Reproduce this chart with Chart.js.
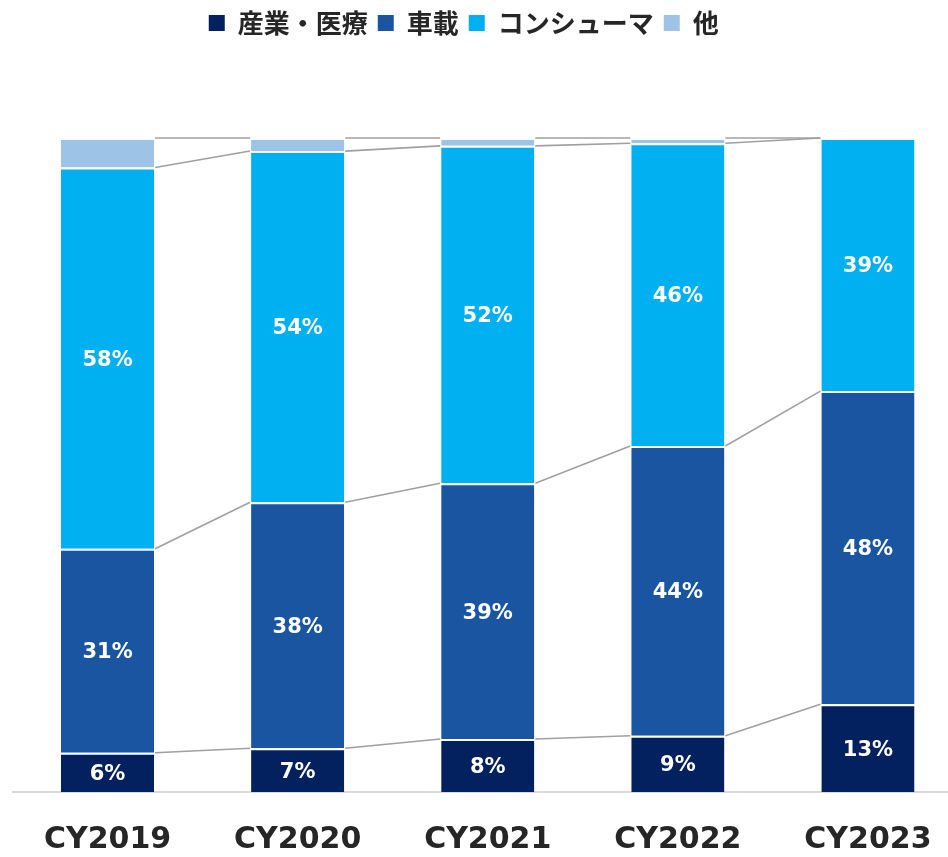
<!DOCTYPE html>
<html>
<head>
<meta charset="utf-8">
<script src="https://cdn.jsdelivr.net/npm/chart.js@4/dist/chart.umd.min.js"></script>
<style>
  html, body { margin: 0; padding: 0; background: #ffffff; overflow: hidden; }
  #wrap { position: absolute; left: 0; top: 0; width: 963px; height: 888px; }
</style>
</head>
<body>
<div id="wrap"><canvas id="c"></canvas></div>
<script>
const categories = ['CY2019', 'CY2020', 'CY2021', 'CY2022', 'CY2023'];
const seriesNames = ['産業・医療', '車載', 'コンシューマ', '他'];
const industrial = [6.0, 6.7, 8.1, 8.6, 13.4];
const automotive = [31.2, 37.6, 39.1, 44.3, 47.9];
const consumer = [58.3, 53.7, 51.6, 46.3, 38.7];
const other = [4.5, 2.0, 1.2, 0.8, 0.0];
const seriesColors = ['#03205f', '#1a55a2', '#00b0f0', '#9dc3e6'];

const seriesData = [industrial, automotive, consumer, other];

const datasets = seriesData.map((d, k) => ({
  label: seriesNames[k],
  data: d,
  backgroundColor: seriesColors[k],
  borderColor: '#ffffff',
  borderWidth: { top: 2, left: 0, right: 0, bottom: 0 },
  borderSkipped: false,
  categoryPercentage: 1.0,
  barPercentage: 0.49,
  showLabel: k < 3
}));

const connectorPlugin = {
  id: 'connectors',
  afterDatasetsDraw(chart) {
    const ctx = chart.ctx;
    ctx.save();
    ctx.strokeStyle = '#a0a0a0';
    ctx.lineWidth = 1.6;
    for (let k = 0; k < chart.data.datasets.length; k++) {
      const meta = chart.getDatasetMeta(k);
      for (let i = 0; i < meta.data.length - 1; i++) {
        const a = meta.data[i], b = meta.data[i + 1];
        ctx.beginPath();
        ctx.moveTo(a.x + a.width / 2 + 1, a.y);
        ctx.lineTo(b.x - b.width / 2 - 1, b.y);
        ctx.stroke();
      }
    }
    ctx.restore();
  }
};

const labelPlugin = {
  id: 'segLabels',
  afterDatasetsDraw(chart) {
    const ctx = chart.ctx;
    ctx.save();
    ctx.fillStyle = '#ffffff';
    ctx.font = 'bold 21px "DejaVu Sans", Verdana, sans-serif';
    ctx.textAlign = 'center';
    ctx.textBaseline = 'middle';
    chart.data.datasets.forEach((ds, k) => {
      if (!ds.showLabel) return;
      const meta = chart.getDatasetMeta(k);
      meta.data.forEach((bar, i) => {
        const v = ds.data[i];
        if (!v) return;
        ctx.fillText(Math.round(v) + '%', bar.x, (bar.y + bar.base) / 2 + 2);
      });
    });
    ctx.restore();
  }
};

const legendPlace = {
  id: 'legendPlace',
  beforeInit(chart) {
    const fit = chart.legend.fit;
    chart.legend.fit = function () {
      fit.bind(chart.legend)();
      this.height = 138;
    };
  },
  afterLayout(chart) {
    chart.legend.left -= 24;
    chart.legend.right -= 24;
  }
};

new Chart(document.getElementById('c'), {
  type: 'bar',
  data: { labels: categories, datasets: datasets },
  options: {
    responsive: true,
    maintainAspectRatio: false,
    animation: false,
    layout: { padding: { left: 12.5, right: 0, top: 0, bottom: 0 } },
    plugins: {
      tooltip: { enabled: false },
      legend: {
        position: 'top',
        labels: {
          boxWidth: 16,
          boxHeight: 16,
          padding: 10,
          color: '#262626',
          font: { family: '"Noto Sans CJK JP", sans-serif', size: 26, weight: 'bold' },
          generateLabels(chart) {
            const items = Chart.defaults.plugins.legend.labels.generateLabels(chart);
            items.forEach(it => { it.lineWidth = 0; it.strokeStyle = 'rgba(0,0,0,0)'; });
            return items;
          }
        }
      }
    },
    scales: {
      x: {
        stacked: true,
        grid: { display: false, drawTicks: false },
        border: { display: true, color: '#d9d9d9', width: 2 },
        ticks: {
          padding: 30,
          color: '#262626',
          font: { family: '"DejaVu Sans", Verdana, sans-serif', size: 30, weight: 'bold' }
        }
      },
      y: {
        stacked: true,
        display: false,
        min: 0,
        max: 100
      }
    }
  },
  plugins: [legendPlace, connectorPlugin, labelPlugin]
});
</script>
</body>
</html>
